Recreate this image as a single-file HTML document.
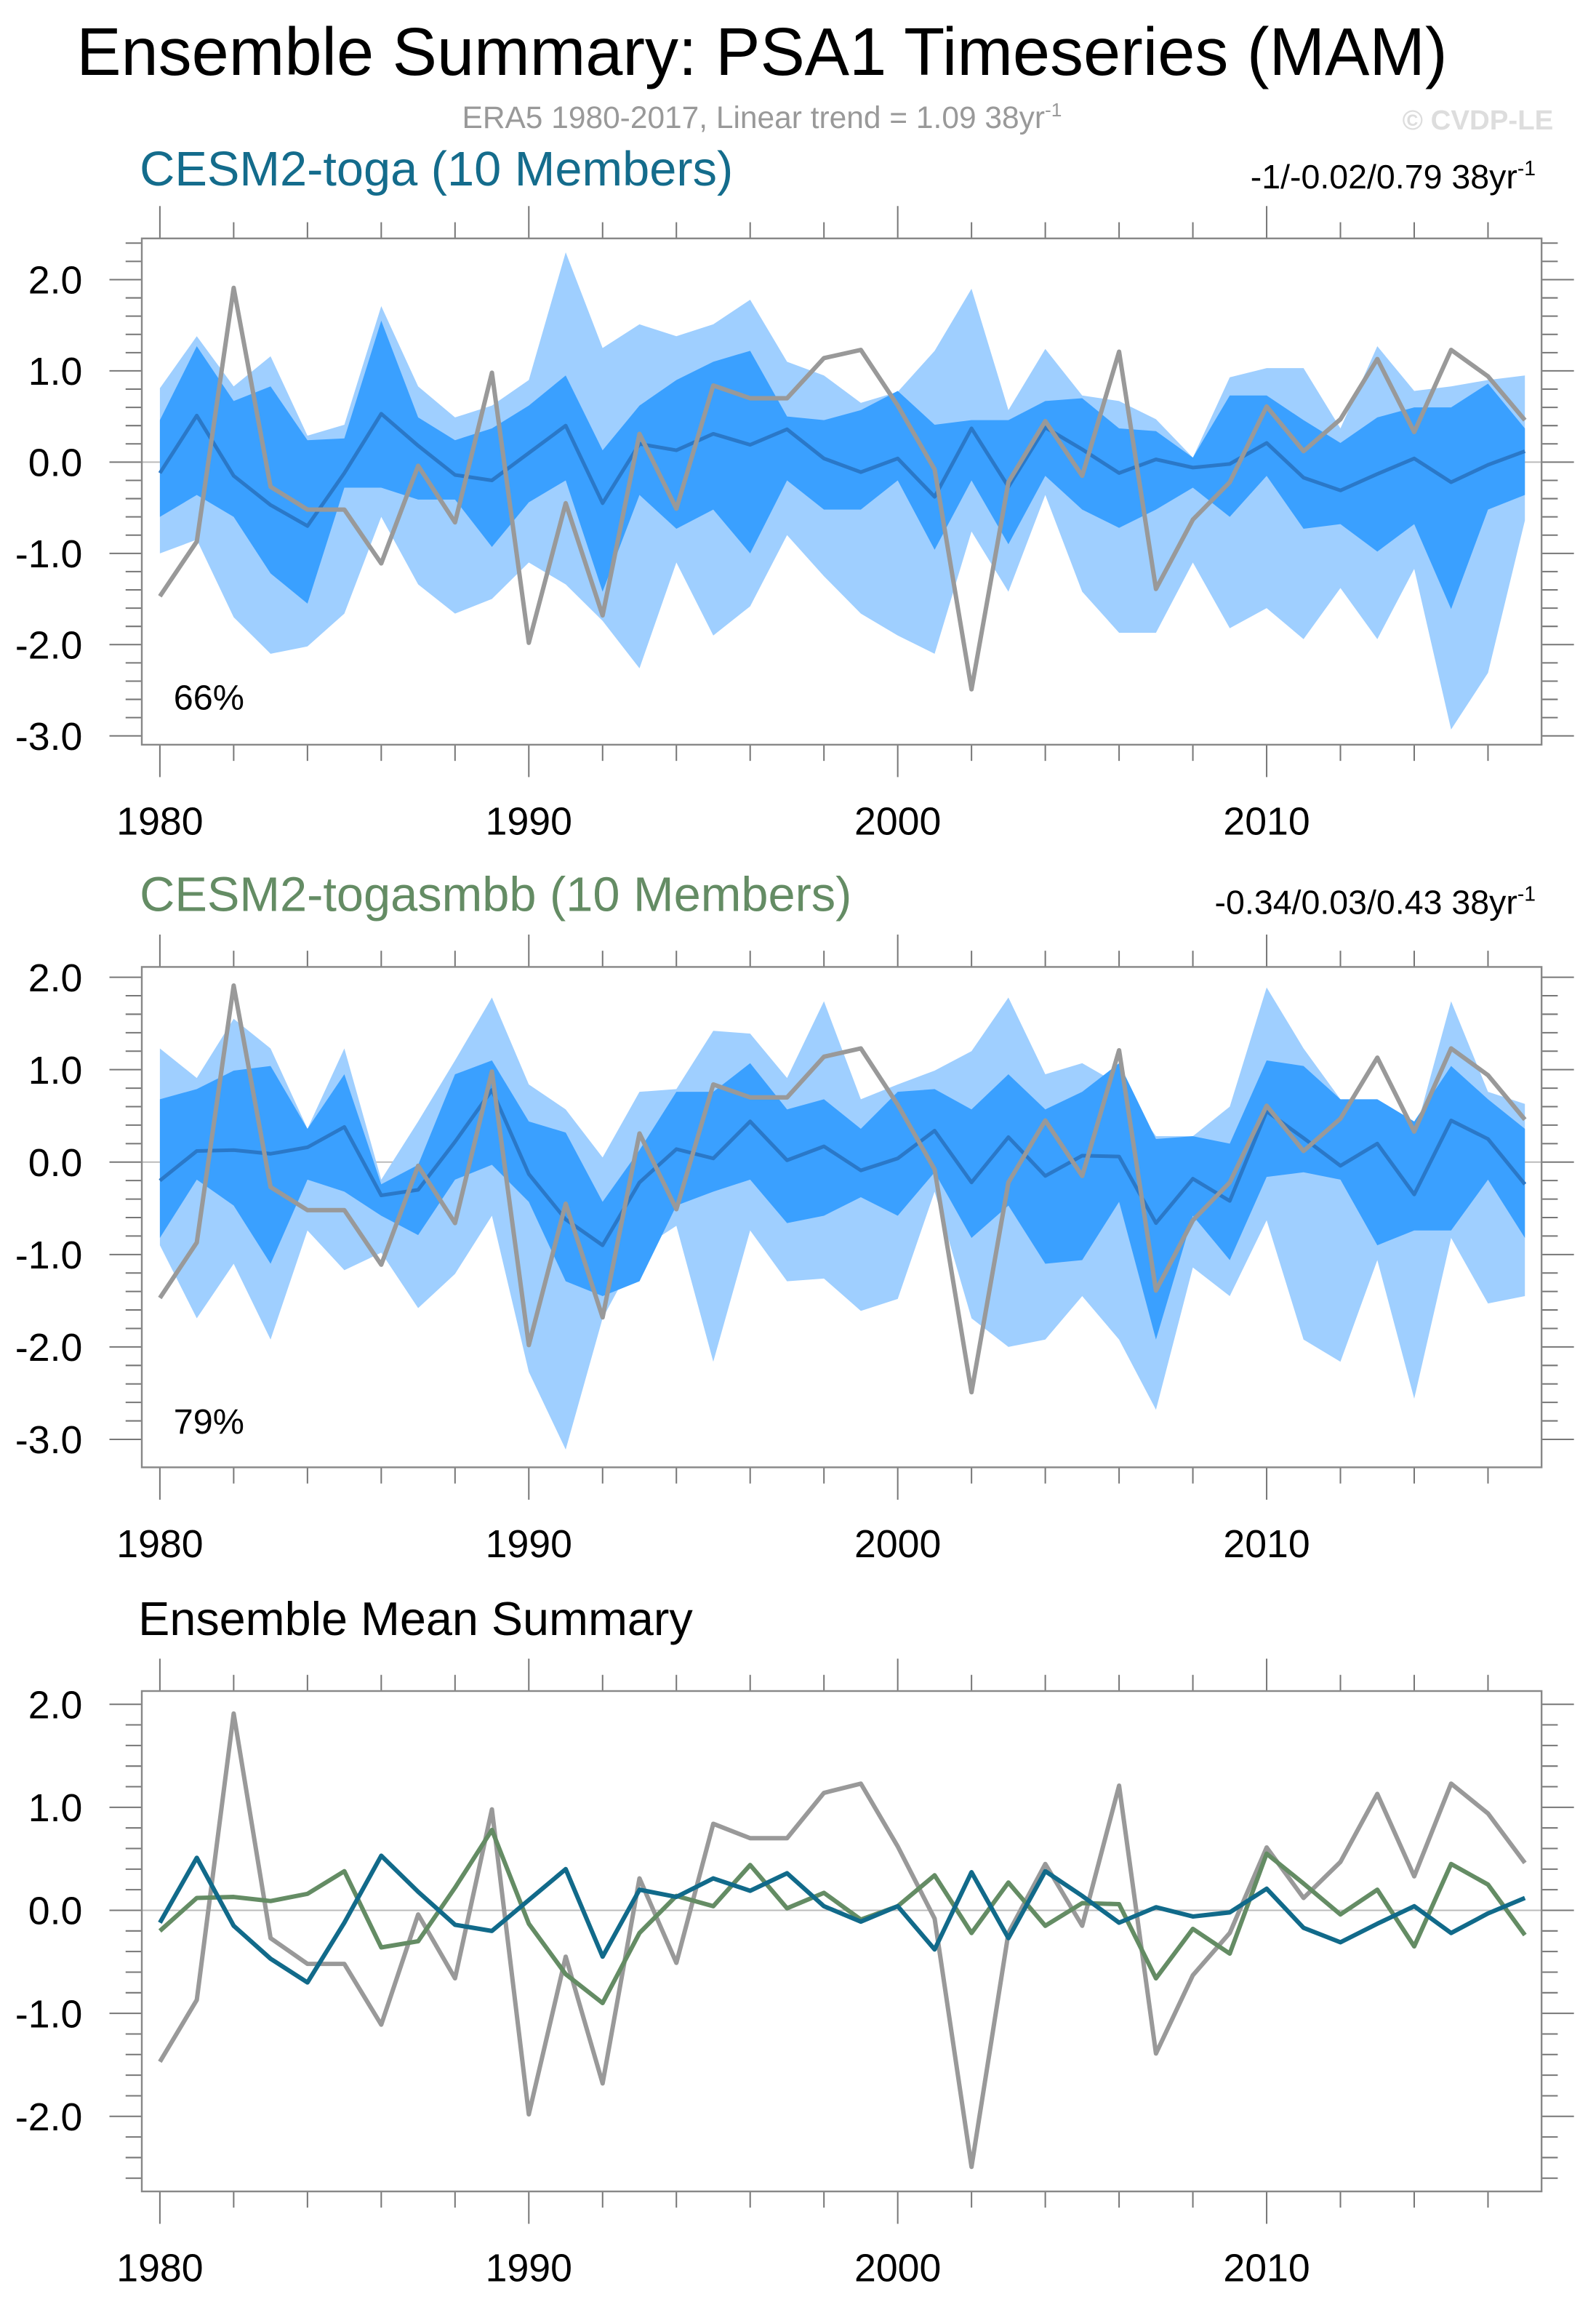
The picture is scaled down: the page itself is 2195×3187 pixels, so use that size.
<!DOCTYPE html>
<html><head><meta charset="utf-8">
<style>html,body{margin:0;padding:0;background:#fff}svg{display:block}</style>
</head><body>
<svg id="chart" width="2195" height="3187" viewBox="0 0 1085 1575" preserveAspectRatio="none" xmlns="http://www.w3.org/2000/svg" font-family="Liberation Sans, sans-serif">
<text x="518" y="51" font-size="46" text-anchor="middle" textLength="932" lengthAdjust="spacingAndGlyphs">Ensemble Summary: PSA1 Timeseries (MAM)</text>
<text x="518" y="87" font-size="21" fill="#999" text-anchor="middle">ERA5 1980-2017, Linear trend = 1.09 38yr<tspan dy="-8" font-size="13">-1</tspan></text>
<text x="1056" y="88" font-size="19" font-weight="bold" fill="#ddd" text-anchor="end">© CVDP-LE</text>
<text x="95" y="126" font-size="33" fill="#146c8c">CESM2-toga (10 Members)</text>
<text x="1044" y="128" font-size="23" text-anchor="end">-1/-0.02/0.79 38yr<tspan dy="-9" font-size="14">-1</tspan></text>
<text x="95" y="619" font-size="33" fill="#648c64">CESM2-togasmbb (10 Members)</text>
<text x="1044" y="621" font-size="23" text-anchor="end">-0.34/0.03/0.43 38yr<tspan dy="-9" font-size="14">-1</tspan></text>
<text x="94" y="1111" font-size="32">Ensemble Mean Summary</text>
<g id="plots"></g>
</svg>
<script>
const years = [];
for (let y = 1980; y <= 2017; y++) years.push(y);
const era5 = [-1.47,-0.87,1.91,-0.27,-0.52,-0.52,-1.11,-0.04,-0.66,0.98,-1.98,-0.45,-1.68,0.31,-0.51,0.84,0.70,0.70,1.14,1.23,0.62,-0.08,-2.49,-0.22,0.45,-0.15,1.21,-1.39,-0.63,-0.22,0.61,0.12,0.47,1.13,0.33,1.23,0.94,0.46];
const togaMean = [-0.12,0.51,-0.15,-0.47,-0.70,-0.12,0.53,0.18,-0.14,-0.20,0.10,0.40,-0.45,0.20,0.13,0.31,0.19,0.36,0.04,-0.11,0.04,-0.38,0.37,-0.27,0.38,0.14,-0.12,0.03,-0.06,-0.02,0.21,-0.17,-0.31,-0.13,0.04,-0.22,-0.03,0.12];
const smbbMean = [-0.20,0.12,0.13,0.09,0.16,0.38,-0.36,-0.30,0.22,0.78,-0.13,-0.62,-0.90,-0.22,0.14,0.04,0.44,0.02,0.17,-0.09,0.04,0.34,-0.22,0.27,-0.15,0.07,0.06,-0.66,-0.18,-0.42,0.55,0.26,-0.04,0.20,-0.35,0.45,0.25,-0.24];
const togaMax = [0.81,1.38,0.83,1.16,0.29,0.41,1.71,0.83,0.49,0.62,0.9,2.3,1.25,1.51,1.38,1.51,1.78,1.1,0.95,0.65,0.77,1.22,1.9,0.57,1.24,0.73,0.67,0.47,0.05,0.93,1.03,1.03,0.37,1.27,0.78,0.83,0.9,0.95];
const togaMin = [-1.0,-0.85,-1.7,-2.1,-2.02,-1.66,-0.6,-1.34,-1.66,-1.5,-1.1,-1.34,-1.74,-2.26,-1.1,-1.9,-1.58,-0.8,-1.25,-1.66,-1.9,-2.1,-0.76,-1.42,-0.36,-1.42,-1.87,-1.87,-1.1,-1.82,-1.6,-1.94,-1.38,-1.94,-1.17,-2.93,-2.31,-0.64];
const togaHi = [0.46,1.27,0.67,0.83,0.24,0.26,1.55,0.49,0.24,0.37,0.62,0.95,0.13,0.62,0.9,1.1,1.22,0.5,0.46,0.57,0.78,0.41,0.46,0.46,0.67,0.7,0.37,0.34,0.05,0.73,0.73,0.46,0.21,0.49,0.6,0.6,0.86,0.37];
const togaLo = [-0.6,-0.36,-0.6,-1.22,-1.55,-0.28,-0.28,-0.41,-0.41,-0.93,-0.44,-0.2,-1.42,-0.36,-0.73,-0.52,-1.0,-0.2,-0.52,-0.52,-0.2,-0.96,-0.2,-0.9,-0.15,-0.52,-0.72,-0.52,-0.28,-0.6,-0.15,-0.73,-0.68,-0.98,-0.68,-1.61,-0.52,-0.36];
const smbbMax = [1.23,0.91,1.55,1.23,0.36,1.23,-0.19,0.44,1.1,1.78,0.84,0.57,0.05,0.76,0.79,1.42,1.39,0.91,1.74,0.68,0.84,0.99,1.2,1.78,0.95,1.07,0.84,0.28,0.28,0.6,1.89,1.23,0.68,0.6,0.28,1.74,0.76,0.63];
const smbbMin = [-0.9,-1.69,-1.1,-1.92,-0.74,-1.17,-0.98,-1.58,-1.21,-0.58,-2.27,-3.11,-1.69,-0.95,-0.69,-2.16,-0.74,-1.29,-1.26,-1.61,-1.48,-0.32,-1.69,-2.0,-1.92,-1.45,-1.92,-2.68,-1.14,-1.45,-0.63,-1.92,-2.16,-1.06,-2.56,-0.82,-1.53,-1.45];
const smbbHi = [0.68,0.79,0.99,1.04,0.36,0.95,-0.24,-0.03,0.95,1.1,0.44,0.32,-0.43,0.13,0.76,0.76,1.07,0.57,0.68,0.36,0.76,0.79,0.57,0.95,0.57,0.76,1.07,0.25,0.28,0.2,1.1,1.04,0.68,0.68,0.44,1.04,0.68,0.36];
const smbbLo = [-0.82,-0.19,-0.47,-1.1,-0.19,-0.32,-0.58,-0.79,-0.19,-0.03,-0.43,-1.29,-1.45,-1.29,-0.47,-0.32,-0.19,-0.66,-0.58,-0.38,-0.58,-0.11,-0.82,-0.47,-1.1,-1.06,-0.43,-1.92,-0.58,-1.06,-0.16,-0.11,-0.19,-0.9,-0.74,-0.74,-0.19,-0.82];
const yTicks1 = [2,1,0,-1,-2,-3];
const yTicks3 = [2,1,0,-1,-2];
const xTickYears = [1980,1990,2000,2010];
const pctLabels = ['66%','79%'];

const NS = 'http://www.w3.org/2000/svg';
const root = document.getElementById('plots');
function mk(tag, attrs, parent) {
  const e = document.createElementNS(NS, tag);
  for (const k in attrs) e.setAttribute(k, attrs[k]);
  (parent || root).appendChild(e);
  return e;
}
const X0 = 96.4, X1 = 1048;
function xs(yr) { return 108.7 + (yr - 1980) * 25.08; }

function panel(id, top, bottom, yAt2, perUnit, ticks, minV, maxV) {
  const g = mk('g', {});
  
  
  const ys = v => yAt2 + (2 - v) * perUnit;
  const z = mk('line', {x1: X0, x2: X1, y1: ys(0), y2: ys(0), stroke: '#bbb', 'stroke-width': 1}, g);
  
  
  for (let v = minV; v <= maxV + 1e-9; v += 0.2) {
    const yy = ys(v);
    if (yy < top - 0.5 || yy > bottom + 0.5) continue;
    const major = Math.abs(v - Math.round(v)) < 1e-6;
    const L = major ? 22 : 11;
    mk('line', {x1: X0 - L, x2: X0, y1: yy, y2: yy, stroke: '#777', 'stroke-width': 1}, g);
    mk('line', {x1: X1, x2: X1 + L, y1: yy, y2: yy, stroke: '#777', 'stroke-width': 1}, g);
  }
  ticks.forEach(v => {
    const t = mk('text', {x: 56, y: ys(v) + 9.5, 'font-size': 26.5, 'text-anchor': 'end'}, g);
    
    
    t.textContent = v.toFixed(1);
  });
  for (let yr = 1980; yr <= 2017; yr += 2) {
    const major = yr % 10 === 0;
    const L = major ? 22 : 11;
    mk('line', {x1: xs(yr), x2: xs(yr), y1: bottom, y2: bottom + L, stroke: '#777', 'stroke-width': 1}, g);
    mk('line', {x1: xs(yr), x2: xs(yr), y1: top - L, y2: top, stroke: '#777', 'stroke-width': 1}, g);
  }
  xTickYears.forEach(yr => {
    const t = mk('text', {x: xs(yr), y: bottom + 61, 'font-size': 26.5, 'text-anchor': 'middle'}, g);
    
    
    t.textContent = yr;
  });
  return {g, ys};
}
function band(g, ys, hi, lo, color, name) {
  let d = '';
  years.forEach((yr, i) => { d += (i ? 'L' : 'M') + xs(yr) + ',' + ys(hi[i]); });
  for (let i = years.length - 1; i >= 0; i--) d += 'L' + xs(years[i]) + ',' + ys(lo[i]);
  const p = mk('path', {d: d + 'Z', fill: color}, g);
  
  
}
function line(g, ys, vals, color, w, name) {
  const pts = years.map((yr, i) => xs(yr) + ',' + ys(vals[i])).join(' ');
  const p = mk('polyline', {points: pts, fill: 'none', stroke: color, 'stroke-width': w, 'stroke-linejoin': 'round'}, g);
  
  
}
function frame(g, top, bottom, name) {
  const r = mk('rect', {x: X0, y: top, width: X1 - X0, height: bottom - top, fill: 'none', stroke: '#888', 'stroke-width': 1.2}, g);
  
  
}

let p = panel('panel1', 162, 506, 190, 62, yTicks1, -3.0, 2.4);
band(p.g, p.ys, togaMax, togaMin, '#9fcfff', 'toga-minmax-band');
band(p.g, p.ys, togaHi, togaLo, '#3aa0ff', 'toga-spread-band');
line(p.g, p.ys, togaMean, '#2a78c8', 2.5, 'toga-mean-line');
line(p.g, p.ys, era5, '#999', 3, 'era5-line');
frame(p.g, 162, 506, 'panel1-frame');
let t = mk('text', {x: 118, y: 482, 'font-size': 24}, p.g);


t.textContent = pctLabels[0];

p = panel('panel2', 657, 997, 664, 62.8, yTicks1, -3.0, 2.0);
band(p.g, p.ys, smbbMax, smbbMin, '#9fcfff', 'smbb-minmax-band');
band(p.g, p.ys, smbbHi, smbbLo, '#3aa0ff', 'smbb-spread-band');
line(p.g, p.ys, smbbMean, '#2a78c8', 2.5, 'smbb-mean-line');
line(p.g, p.ys, era5, '#999', 3, 'era5-line-2');
frame(p.g, 657, 997, 'panel2-frame');
t = mk('text', {x: 118, y: 974, 'font-size': 24}, p.g);


t.textContent = pctLabels[1];

p = panel('panel3', 1149, 1489, 1158, 70, yTicks3, -2.6, 2.2);
line(p.g, p.ys, era5, '#999', 3, 'era5-line-3');
line(p.g, p.ys, smbbMean, '#648c64', 3, 'smbb-ensemble-mean');
line(p.g, p.ys, togaMean, '#116a8a', 3, 'toga-ensemble-mean');
frame(p.g, 1149, 1489, 'panel3-frame');
</script>
</body></html>
